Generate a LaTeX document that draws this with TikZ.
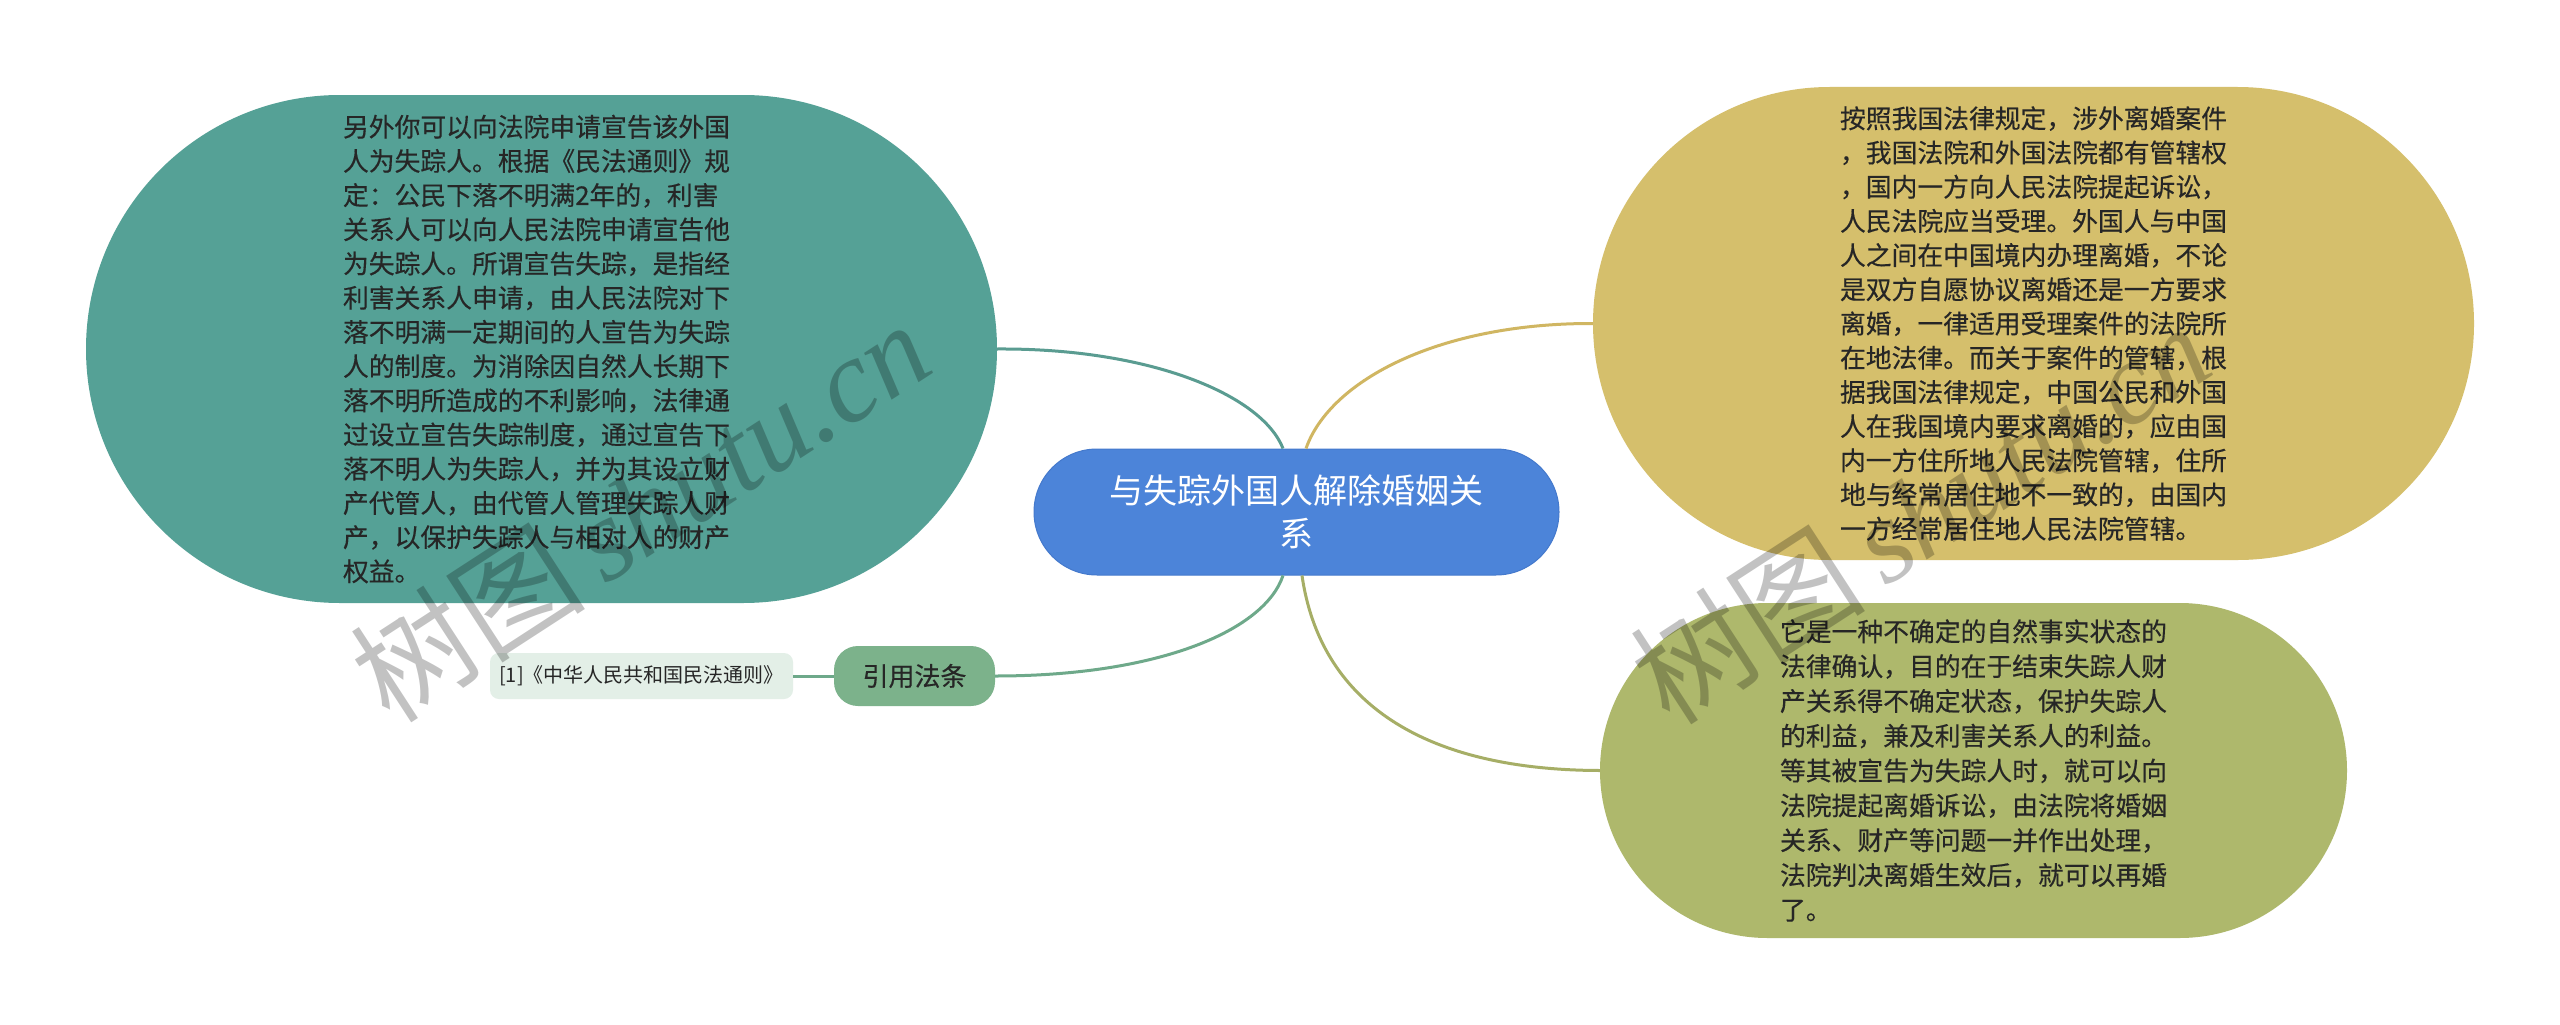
\documentclass[tikz,border=0pt]{standalone}
\usepackage{fontspec}
\setmainfont{Noto Sans CJK SC}
\newfontfamily\bodyfont[FakeBold=0.4]{Noto Sans CJK SC}
\newfontfamily\wmlatin{Liberation Serif}
\usetikzlibrary{shapes.misc}
\definecolor{tealfill}{HTML}{55A196}
\definecolor{tealline}{HTML}{5A9C91}
\definecolor{yelfill}{HTML}{D5BF6C}
\definecolor{yelline}{HTML}{D0B662}
\definecolor{olvfill}{HTML}{AEB86C}
\definecolor{olvline}{HTML}{A6AE66}
\definecolor{bluefill}{HTML}{4C84D9}
\definecolor{blueedge}{HTML}{4479CC}
\definecolor{citefill}{HTML}{7CB28B}
\definecolor{citeline}{HTML}{6EA98A}
\definecolor{reffill}{HTML}{E3EFE7}
\definecolor{txt}{HTML}{262626}
\tikzset{
  bubble/.style={rounded rectangle, inner sep=0pt, align=left, text=txt,
    font=\bodyfont\fontsize{25.8}{34.2}\selectfont},
  link/.style={line width=3pt},
  wmark/.style={rotate=33, text=black, opacity=0.24, font=\fontsize{118}{120}\selectfont},
}
\begin{document}
\begin{tikzpicture}[x=1pt,y=-1pt]
\useasboundingbox[fill=white] (0,0) rectangle (2560,1025);

% nodes
\node[bubble, fill=tealfill, minimum width=911pt, minimum height=508pt] (teal) at (541.5,349) {%
\hspace*{-10pt}另外你可以向法院申请宣告该外国\\\hspace*{-10pt}人为失踪人。根据《民法通则》规\\\hspace*{-10pt}定：公民下落不明满2年的，利害\\\hspace*{-10pt}关系人可以向人民法院申请宣告他\\\hspace*{-10pt}为失踪人。所谓宣告失踪，是指经\\\hspace*{-10pt}利害关系人申请，由人民法院对下\\\hspace*{-10pt}落不明满一定期间的人宣告为失踪\\\hspace*{-10pt}人的制度。为消除因自然人长期下\\\hspace*{-10pt}落不明所造成的不利影响，法律通\\\hspace*{-10pt}过设立宣告失踪制度，通过宣告下\\\hspace*{-10pt}落不明人为失踪人，并为其设立财\\\hspace*{-10pt}产代管人，由代管人管理失踪人财\\\hspace*{-10pt}产，以保护失踪人与相对人的财产\\\hspace*{-10pt}权益。};

\node[bubble, fill=yelfill, minimum width=881pt, minimum height=473pt] (yel) at (2033.5,323.5) {%
按照我国法律规定，涉外离婚案件\\，我国法院和外国法院都有管辖权\\，国内一方向人民法院提起诉讼，\\人民法院应当受理。外国人与中国\\人之间在中国境内办理离婚，不论\\是双方自愿协议离婚还是一方要求\\离婚，一律适用受理案件的法院所\\在地法律。而关于案件的管辖，根\\据我国法律规定，中国公民和外国\\人在我国境内要求离婚的，应由国\\内一方住所地人民法院管辖，住所\\地与经常居住地不一致的，由国内\\一方经常居住地人民法院管辖。};

\node[bubble, fill=olvfill, minimum width=747pt, minimum height=335pt,
      font=\bodyfont\fontsize{25.8}{34.8}\selectfont] (olv) at (1973.5,770.5) {%
它是一种不确定的自然事实状态的\\法律确认，目的在于结束失踪人财\\产关系得不确定状态，保护失踪人\\的利益，兼及利害关系人的利益。\\等其被宣告为失踪人时，就可以向\\法院提起离婚诉讼，由法院将婚姻\\关系、财产等问题一并作出处理，\\法院判决离婚生效后，就可以再婚\\了。};

\node[rounded rectangle, fill=bluefill, draw=blueedge, line width=1pt, inner sep=0pt,
      minimum width=525pt, minimum height=126pt, align=center, text=white,
      font=\fontsize{34}{43}\selectfont] (root) at (1296.5,512) {与失踪外国人解除婚姻关\\系};

\node[rectangle, rounded corners=24pt, fill=citefill, inner sep=0pt,
      minimum width=161pt, minimum height=60pt, text=txt,
      font=\bodyfont\fontsize{26}{30}\selectfont] (cite) at (914.5,676) {引用法条};

\node[rectangle, rounded corners=9pt, fill=reffill, inner sep=0pt,
      minimum width=303pt, minimum height=46pt, text=txt,
      font=\fontsize{20}{24}\selectfont] (ref) at (641.5,676) {[1]《中华人民共和国民法通则》};

% connectors
\draw[link, tealline] (teal.east) .. controls (1150,348) and (1262,395) .. ([xshift=-13.5pt]root.north);
\draw[link, yelline] ([xshift=9.5pt]root.north) .. controls (1330,380) and (1440,323) .. (yel.west);
\draw[link, olvline] ([xshift=5.5pt]root.south) .. controls (1320,700) and (1420,770) .. (olv.west);
\draw[link, citeline] ([xshift=-13.5pt]root.south) .. controls (1265,630) and (1160,676) .. (cite.east);
\draw[link, citeline] (ref.east) -- (cite.west);

% watermarks
\node[wmark] (wm1) at (640,510) {树图\,{\wmlatin\itshape shutu.cn}};
\node[wmark] (wm2) at (1920,512) {树图\,{\wmlatin\itshape shutu.cn}};
\end{tikzpicture}
\end{document}
